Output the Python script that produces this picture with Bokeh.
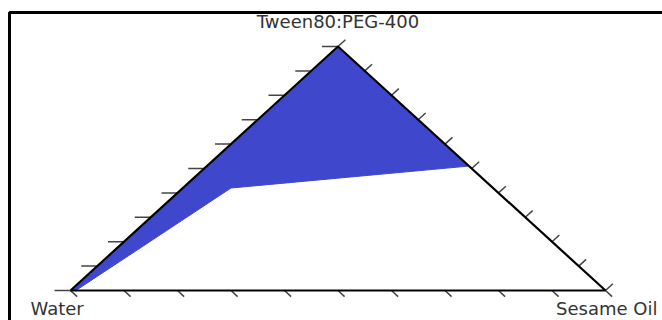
from bokeh.plotting import figure
from bokeh.models import BoxAnnotation, Range1d
from bokeh.core.properties import value
from bokeh.embed import file_html
from bokeh.resources import INLINE

# Ternary components: (water, surfactant mix, oil)
vertex_labels = ["Water", "Tween80:PEG-400", "Sesame Oil"]
tick_values = [0.0, 0.1, 0.2, 0.3, 0.4, 0.5, 0.6, 0.7, 0.8, 0.9, 1.0]

# Boundary of the blue (emulsion) region, as fractions
region_water = [1.00, 0.00, 0.00, 0.49, 0.99]
region_surf = [0.00, 1.00, 0.51, 0.42, 0.00]
region_oil = [0.00, 0.00, 0.49, 0.09, 0.01]


def to_xy(w, s, o):
    tot = w + s + o
    s, o = s / tot, o / tot
    return o + s / 2.0, s


W, H = 662, 320
p = figure(width=W, height=H, output_backend="svg", toolbar_location=None,
           min_border_left=0, min_border_right=0, min_border_top=0, min_border_bottom=0)
# data units -> pixels: x 535 px/unit, y 244 px/unit; Water vertex at (70, 290)
px_x, px_y = 535.0, 244.0
p.x_range = Range1d((0 - 70) / px_x, (W - 70) / px_x)
p.y_range = Range1d((290 - H) / px_y, (290 - 0) / px_y)
p.axis.visible = False
p.grid.visible = False
p.outline_line_color = None
p.background_fill_color = "white"
p.border_fill_color = "white"

# frame of the picture (only top and left edges fall inside the view)
p.add_layout(BoxAnnotation(left=p.x_range.start + 9 / px_x, top=p.y_range.end - 12 / px_y,
                           right=p.x_range.end + 20 / px_x, bottom=p.y_range.start - 20 / px_y,
                           fill_color=None, fill_alpha=0, line_color="black", line_width=3,
                           line_alpha=1))

# region
rx, ry = zip(*[to_xy(w, s, o) for w, s, o in zip(region_water, region_surf, region_oil)])
p.patch(list(rx), list(ry), fill_color="#3F48CC", line_color="#3F48CC", line_width=1)

# ticks
tx0, ty0, tx1, ty1 = [], [], [], []
for t in tick_values:
    # left edge (water-surf): horizontal ticks to the left
    x, y = to_xy(1 - t, t, 0)
    tx0.append(x); ty0.append(y); tx1.append(x - 16 / px_x); ty1.append(y)
    # bottom edge (water-oil): ticks down-right
    x, y = to_xy(1 - t, 0, t)
    tx0.append(x); ty0.append(y); tx1.append(x + 6.6 / px_x); ty1.append(y - 6.1 / px_y)
    # right edge (oil-surf): ticks up-right
    x, y = to_xy(0, t, 1 - t)
    tx0.append(x); ty0.append(y); tx1.append(x + 7.4 / px_x); ty1.append(y + 6.7 / px_y)
p.segment(tx0, ty0, tx1, ty1, line_color="#444444", line_width=1.5)

# triangle edges
vx, vy = zip(*[to_xy(1, 0, 0), to_xy(0, 1, 0), to_xy(0, 0, 1), to_xy(1, 0, 0)])
p.line(list(vx), list(vy), line_color="black", line_width=2.2)

# vertex labels
font = value("DejaVu Sans")
lx, ly = to_xy(0, 1, 0)
p.text([lx], [ly + 15 / px_y], text=[vertex_labels[1]], text_align="center",
       text_baseline="bottom", text_font=font, text_font_size="18px", text_color="#333333")
lx, ly = to_xy(1, 0, 0)
p.text([lx - 40 / px_x], [ly - 18 / px_y], text=[vertex_labels[0]], text_align="left",
       text_baseline="middle", text_font=font, text_font_size="18px", text_color="#333333")
lx, ly = to_xy(0, 0, 1)
p.text([lx + 52 / px_x], [ly - 18 / px_y], text=[vertex_labels[2]], text_align="right",
       text_baseline="middle", text_font=font, text_font_size="18px", text_color="#333333")

open("out.html", "w").write(file_html(p, INLINE))
